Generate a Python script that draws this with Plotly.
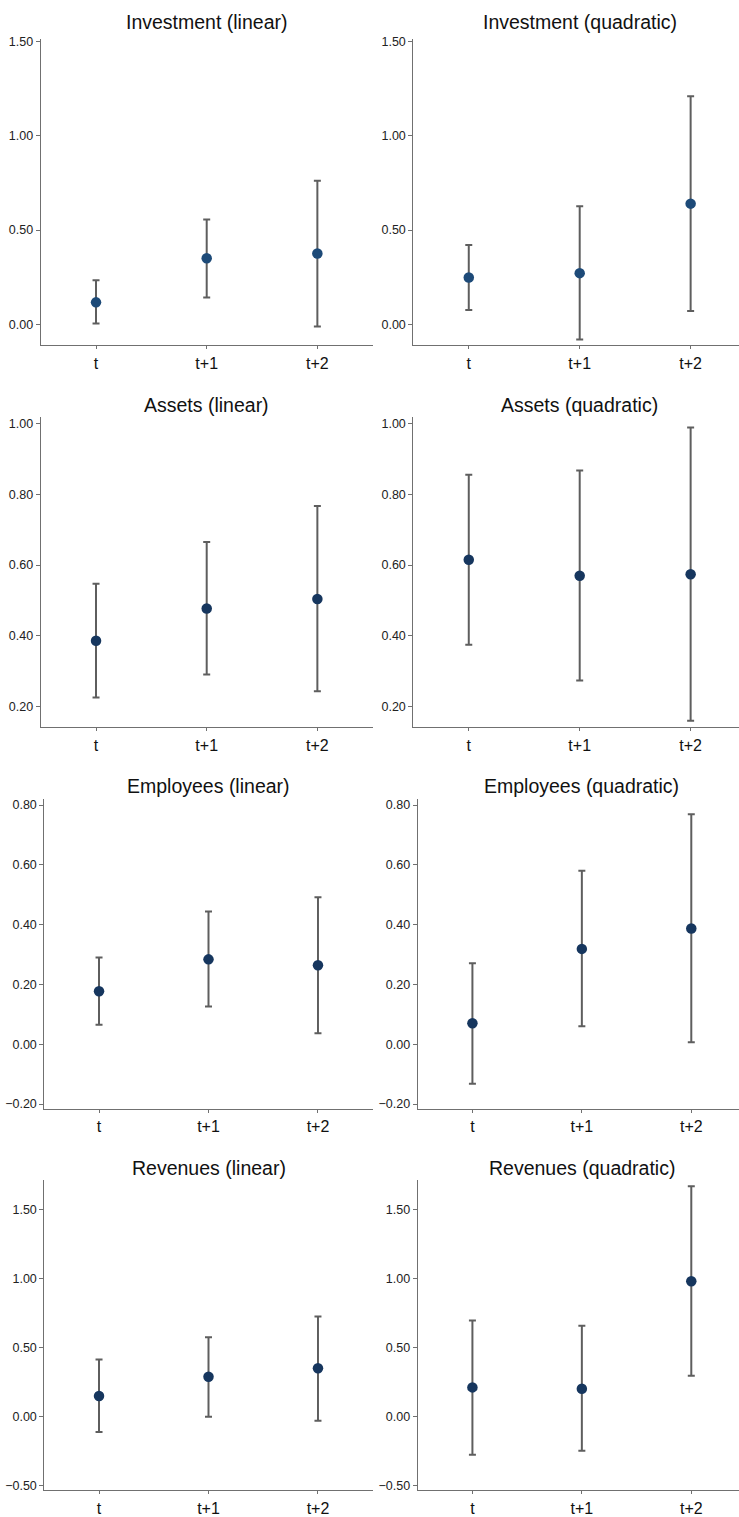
import plotly.graph_objects as go

periods = ["t", "t+1", "t+2"]

inv_lin_est = [0.116, 0.350, 0.375]
inv_lin_lo = [0.004, 0.142, -0.012]
inv_lin_hi = [0.234, 0.556, 0.762]

inv_quad_est = [0.248, 0.271, 0.640]
inv_quad_lo = [0.075, -0.081, 0.070]
inv_quad_hi = [0.420, 0.626, 1.210]

assets_lin_est = [0.386, 0.477, 0.504]
assets_lin_lo = [0.226, 0.291, 0.243]
assets_lin_hi = [0.547, 0.665, 0.767]

assets_quad_est = [0.615, 0.570, 0.574]
assets_quad_lo = [0.375, 0.274, 0.160]
assets_quad_hi = [0.855, 0.867, 0.989]

emp_lin_est = [0.177, 0.284, 0.264]
emp_lin_lo = [0.065, 0.126, 0.037]
emp_lin_hi = [0.290, 0.444, 0.492]

emp_quad_est = [0.070, 0.319, 0.387]
emp_quad_lo = [-0.132, 0.060, 0.007]
emp_quad_hi = [0.271, 0.580, 0.769]

rev_lin_est = [0.146, 0.286, 0.348]
rev_lin_lo = [-0.115, -0.003, -0.032]
rev_lin_hi = [0.411, 0.572, 0.723]

rev_quad_est = [0.209, 0.199, 0.978]
rev_quad_lo = [-0.279, -0.250, 0.293]
rev_quad_hi = [0.694, 0.656, 1.668]

titles = ["Investment (linear)", "Investment (quadratic)",
          "Assets (linear)", "Assets (quadratic)",
          "Employees (linear)", "Employees (quadratic)",
          "Revenues (linear)", "Revenues (quadratic)"]

panels = [
    (inv_lin_est, inv_lin_lo, inv_lin_hi),
    (inv_quad_est, inv_quad_lo, inv_quad_hi),
    (assets_lin_est, assets_lin_lo, assets_lin_hi),
    (assets_quad_est, assets_quad_lo, assets_quad_hi),
    (emp_lin_est, emp_lin_lo, emp_lin_hi),
    (emp_quad_est, emp_quad_lo, emp_quad_hi),
    (rev_lin_est, rev_lin_lo, rev_lin_hi),
    (rev_quad_est, rev_quad_lo, rev_quad_hi),
]

y_ranges = [[-0.113, 1.515], [0.141, 1.019], [-0.217, 0.82], [-0.538, 1.712]]
y_ticks = [[0, 0.5, 1.0, 1.5], [0.2, 0.4, 0.6, 0.8, 1.0],
           [-0.2, 0, 0.2, 0.4, 0.6, 0.8], [-0.5, 0, 0.5, 1.0, 1.5]]

W, H = 739, 1517
row_px = [(35, 343.3), (415, 727.3), (799.3, 1111), (1182.3, 1494.3)]
title_px = [18, 402.7, 785.7, 1170]
left_x0 = [40.7, 40.7, 44.3, 44.3]
right_x0 = [413.3, 413.3, 417.7, 417.7]
left_x1 = 372.7
right_end = 2.436
marker_colors = ["#1d4a78", "#16365e", "#16365e", "#16365e"]

fig = go.Figure()
layout = dict(
    width=W, height=H, margin=dict(l=0, r=0, t=0, b=0),
    paper_bgcolor="white", plot_bgcolor="white", showlegend=False,
    font=dict(family="Liberation Sans, Arial, sans-serif", color="#111"),
)
annotations = []

for i, (est, lo, hi) in enumerate(panels):
    row, col = i // 2, i % 2
    n = i + 1
    xa = "x" if n == 1 else f"x{n}"
    ya = "y" if n == 1 else f"y{n}"
    fig.add_trace(go.Scatter(
        x=periods, y=est, xaxis=xa, yaxis=ya, mode="markers",
        marker=dict(color=marker_colors[row], size=10.5),
        error_y=dict(type="data", symmetric=False,
                     array=[h - e for h, e in zip(hi, est)],
                     arrayminus=[e - l for e, l in zip(est, lo)],
                     color="#5e5e5e", thickness=2, width=3.5),
        hoverinfo="skip",
    ))
    if col == 0:
        x0, x1 = left_x0[row], left_x1
        xr = [-0.5, 2.5]
        title_cx = (x0 + x1) / 2
    else:
        x0, x1 = right_x0[row], W
        xr = [-0.5, right_end]
        unit = (W - x0) / (right_end + 0.5)
        title_cx = x0 + 1.5 * unit
    ytop, ybot = row_px[row]
    xkey = "xaxis" if n == 1 else f"xaxis{n}"
    ykey = "yaxis" if n == 1 else f"yaxis{n}"
    layout[xkey] = dict(
        domain=[x0 / W, x1 / W], anchor=ya, type="category",
        categoryorder="array", categoryarray=periods, range=xr,
        showline=True, linecolor="#707070", linewidth=1,
        ticks="outside", ticklen=3, tickcolor="#707070",
        showgrid=False, zeroline=False, fixedrange=True,
        tickfont=dict(size=16, color="#111"),
    )
    layout[ykey] = dict(
        domain=[1 - ybot / H, 1 - ytop / H], anchor=xa,
        range=y_ranges[row], tickvals=y_ticks[row], tickformat=".2f",
        showline=True, linecolor="#707070", linewidth=1,
        ticks="outside", ticklen=4, tickcolor="#707070",
        showgrid=False, zeroline=False, fixedrange=True,
        tickfont=dict(size=12.5, color="#222"),
    )
    annotations.append(dict(
        text=titles[i], xref="paper", yref="paper",
        x=title_cx / W, y=1 - title_px[row] / H,
        xanchor="center", yanchor="middle",
        showarrow=False, font=dict(size=19.5, color="#111"),
    ))

layout["annotations"] = annotations
fig.update_layout(**layout)
fig.write_html(
    "out.html",
    config={"displayModeBar": False, "staticPlot": True},
    post_script="document.body.style.margin='0';document.body.style.overflow='hidden';",
)
